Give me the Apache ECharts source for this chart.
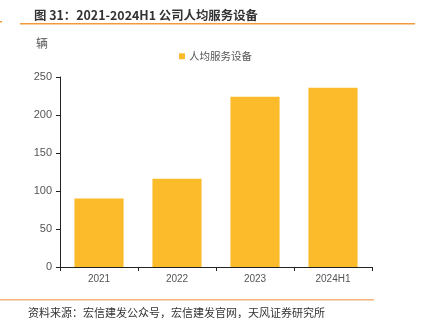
<!DOCTYPE html>
<html><head><meta charset="utf-8">
<script src="https://cdn.jsdelivr.net/npm/echarts@6/dist/echarts.min.js"></script>
<style>html,body{margin:0;padding:0;background:#fff}#c{width:422px;height:334px}</style>
</head><body><div id="c"></div>
<script>
const categories = ['2021', '2022', '2023', '2024H1'];
const serviceEquipment = [90, 116, 224, 236];
const seriesName = '人均服务设备';
const yTicks = [0, 50, 100, 150, 200, 250];

const chart = echarts.init(document.getElementById('c'));
chart.setOption({
  animation: false,
  textStyle: { fontFamily: '"Noto Sans CJK SC", "Liberation Sans", sans-serif' },
  title: {
    text: '图 31：2021-2024H1 公司人均服务设备',
    left: 29, top: 4,
    textStyle: { fontSize: 12.4, fontWeight: 'bold', color: '#333', fontFamily: '"Noto Sans CJK SC", sans-serif' }
  },
  graphic: [
    { type: 'rect', shape: { x: 20, y: 23, width: 395, height: 1.5 }, style: { fill: '#f39a3c' } },
    { type: 'rect', shape: { x: 0, y: 21, width: 2, height: 1.5 }, style: { fill: '#f39a3c' } },
    { type: 'rect', shape: { x: 0, y: 299, width: 374, height: 1.5 }, style: { fill: '#f6b27a' } },
    { type: 'text', left: 28, top: 307, style: { text: '资料来源：宏信建发公众号，宏信建发官网，天风证券研究所', fontSize: 11, fill: '#333', fontFamily: '"Noto Sans CJK SC", sans-serif' } },
    { type: 'text', left: 36, top: 37, style: { text: '辆', fontSize: 12, fill: '#555', fontFamily: '"Noto Sans CJK SC", sans-serif' } }
  ],
  legend: {
    data: [seriesName], left: 174, top: 46,
    itemWidth: 6, itemHeight: 6, itemGap: 4,
    icon: 'rect',
    textStyle: { fontSize: 10.5, color: '#555', padding: [0, 0, 0, -1] }
  },
  grid: { left: 60, right: 50, top: 77, bottom: 67 },
  xAxis: {
    type: 'category', data: categories,
    axisLine: { lineStyle: { color: '#222', width: 1 } },
    axisTick: { show: true, length: 4, lineStyle: { color: '#222' } },
    axisLabel: { fontSize: 10, color: '#555', margin: 7, fontFamily: '"Liberation Sans", sans-serif' }
  },
  yAxis: {
    type: 'value', min: yTicks[0], max: yTicks[yTicks.length - 1], interval: 50,
    splitLine: { show: false },
    axisLine: { show: true, lineStyle: { color: '#222', width: 1 } },
    axisTick: { show: true, length: 4, lineStyle: { color: '#222' } },
    axisLabel: { fontSize: 11, color: '#555', margin: 8, fontFamily: '"Liberation Sans", sans-serif' }
  },
  series: [{
    name: seriesName, type: 'bar', data: serviceEquipment,
    barWidth: '63%',
    itemStyle: { color: '#fbbb2b' }
  }]
});
</script></body></html>
